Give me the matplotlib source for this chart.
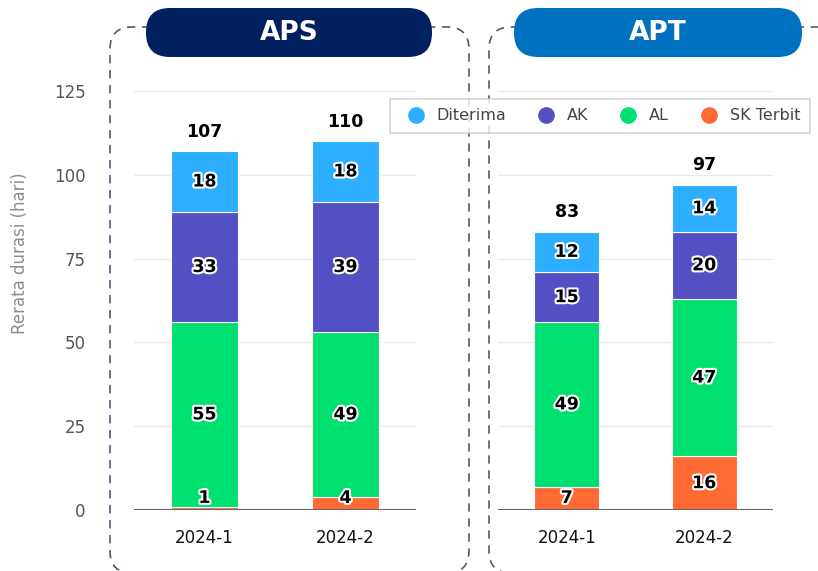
import numpy as np
import matplotlib
matplotlib.use("Agg")
import matplotlib.pyplot as plt
import matplotlib.patheffects as pe
from matplotlib.patches import FancyBboxPatch
from matplotlib.lines import Line2D

periods = ["2024-1", "2024-2"]
series = ["SK Terbit", "AL", "AK", "Diterima"]
aps_vals = {"SK Terbit": [1, 4], "AL": [55, 49], "AK": [33, 39], "Diterima": [18, 18]}
apt_vals = {"SK Terbit": [7, 16], "AL": [49, 47], "AK": [15, 20], "Diterima": [12, 14]}
aps_total = [107, 110]
apt_total = [83, 97]
colors = {"Diterima": "#2DAEFF", "AK": "#554FC4", "AL": "#00E071", "SK Terbit": "#FF6A35"}

W, H = 818, 571
fig = plt.figure(figsize=(W / 100, H / 100), dpi=100)

# background layer in pixel coords (y measured from bottom): dashed frames + header pills
bg = fig.add_axes([0, 0, 1, 1], zorder=-1)
bg.set_xlim(0, W); bg.set_ylim(0, H); bg.axis("off")
for x0, x1 in [(110, 469), (489, 850)]:
    bg.add_patch(FancyBboxPatch((x0, H - 573), x1 - x0, 546, boxstyle="round,pad=0,rounding_size=22",
                                fill=False, ec="#4B5B75", lw=1.2, ls=(0, (5, 4))))
for x0, x1, col, name in [(146, 432, "#002060", "APS"), (514, 802, "#0070C0", "APT")]:
    bg.add_patch(FancyBboxPatch((x0, H - 57), x1 - x0, 49, boxstyle="round,pad=0,rounding_size=24",
                                fc=col, ec="none", zorder=3))
    bg.text((x0 + x1) / 2, H - 33, name, color="white", fontsize=19, fontweight="bold",
            ha="center", va="center", zorder=4)


def panel(rect, vals, totals, show_y):
    ax = fig.add_axes(rect)
    ax.set_facecolor("none")
    x = np.arange(len(periods))
    bottom = np.zeros(len(periods))
    for s in series:
        v = np.array(vals[s], dtype=float)
        ax.bar(x, v, bottom=bottom, width=0.47, color=colors[s], edgecolor="white",
               linewidth=0.8, zorder=2)
        for xi, b, vi in zip(x, bottom, v):
            ax.text(xi, max(b + vi / 2, 3.6), f"{int(vi)}", ha="center", va="center",
                    fontsize=12.5, fontweight="bold", color="black", zorder=4,
                    path_effects=[pe.withStroke(linewidth=3, foreground="white")])
        bottom += v
    for xi, t in zip(x, totals):
        ax.annotate(f"{t}", (xi, t), xytext=(0, 14), textcoords="offset points",
                    ha="center", va="center", fontsize=12.5, fontweight="bold", color="black")
    ax.set_xlim(-0.5, 1.5)
    ax.set_ylim(0, 125)
    ax.set_yticks([0, 25, 50, 75, 100, 125])
    ax.grid(axis="y", color="#EBEBEB", lw=1, zorder=0)
    ax.set_axisbelow(True)
    ax.axhline(0, color="#666666", lw=1.5, zorder=3)
    for sp in ax.spines.values():
        sp.set_visible(False)
    ax.set_xticks(x)
    ax.set_xticklabels(periods, fontsize=12, color="#111111")
    ax.tick_params(axis="both", length=0)
    ax.tick_params(axis="x", pad=14)
    if show_y:
        ax.tick_params(axis="y", pad=35, labelsize=12, labelcolor="#555555")
    else:
        ax.tick_params(axis="y", labelleft=False)
    return ax


bot = 1 - 510 / H
top = 1 - 91 / H
panel([134 / W, bot, 282 / W, top - bot], aps_vals, aps_total, True)
panel([498 / W, bot, 275 / W, top - bot], apt_vals, apt_total, False)

fig.text(20 / W, 1 - 253 / H, "Rerata durasi (hari)", rotation=90, ha="center", va="center",
         fontsize=12, color="#8C8C8C")

handles = [Line2D([], [], marker="o", ls="none", ms=11, mfc=colors[s], mec=colors[s])
           for s in ["Diterima", "AK", "AL", "SK Terbit"]]
leg = fig.legend(handles, ["Diterima", "AK", "AL", "SK Terbit"], loc="center",
                 bbox_to_anchor=(600 / W, 1 - 116 / H), ncol=4, fontsize=11.5,
                 frameon=True, fancybox=False, edgecolor="#CCCCCC", handletextpad=0.3,
                 columnspacing=1.5, borderpad=0.6)
leg.get_frame().set_linewidth(1.2)
for t in leg.get_texts():
    t.set_color("#444444")

fig.savefig("out.png", dpi=100)
